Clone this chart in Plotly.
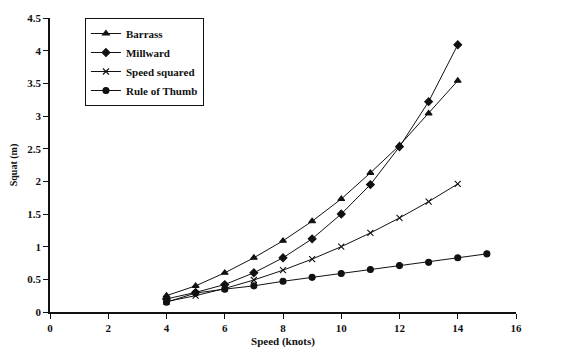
import plotly.graph_objects as go

# Ship speed (knots) and predicted squat (m) for each method
speed = [4, 5, 6, 7, 8, 9, 10, 11, 12, 13, 14]
speed_rot = [4, 5, 6, 7, 8, 9, 10, 11, 12, 13, 14, 15]

barrass = [0.25, 0.40, 0.60, 0.83, 1.09, 1.39, 1.73, 2.13, 2.55, 3.04, 3.54]
millward = [0.20, 0.30, 0.42, 0.60, 0.83, 1.12, 1.50, 1.95, 2.53, 3.22, 4.09]
speed_squared = [0.16, 0.25, 0.36, 0.49, 0.64, 0.81, 1.00, 1.21, 1.44, 1.69, 1.96]
rule_of_thumb = [0.15, 0.29, 0.35, 0.40, 0.47, 0.53, 0.59, 0.65, 0.71, 0.76, 0.83, 0.89]

x_ticks = [0, 2, 4, 6, 8, 10, 12, 14, 16]
y_ticks = [0, 0.5, 1, 1.5, 2, 2.5, 3, 3.5, 4, 4.5]
y_tick_text = ["0", "0.5", "1", "1.5", "2", "2.5", "3", "3.5", "4", "4.5"]

FONT = "Liberation Serif"
INK = "#111111"

series = [
    ("Barrass", speed, barrass, "triangle-up", 6),
    ("Millward", speed, millward, "diamond", 6),
    ("Speed squared", speed, speed_squared, "x-thin", 6),
    ("Rule of Thumb", speed_rot, rule_of_thumb, "circle", 6),
]

fig = go.Figure()
for name, xs, ys, sym, size in series:
    fig.add_trace(go.Scatter(
        x=xs, y=ys, name=name, mode="lines+markers",
        line=dict(color=INK, width=1),
        marker=dict(symbol=sym, size=size, color=INK,
                    line=dict(color=INK, width=1.1)),
    ))

fig.update_layout(
    width=586, height=358,
    margin=dict(l=50, r=70, t=16, b=44),
    paper_bgcolor="white", plot_bgcolor="white",
    font=dict(family=FONT, size=11, color=INK),
    showlegend=True,
    legend=dict(
        x=0.075, y=1.0, xanchor="left", yanchor="top",
        bordercolor=INK, borderwidth=1, bgcolor="white",
        font=dict(family=FONT, size=11, color=INK, weight="bold"),
        tracegroupgap=0, itemwidth=30,
    ),
    xaxis=dict(
        range=[0, 16], tickvals=x_ticks, ticktext=[str(v) for v in x_ticks],
        showgrid=False, zeroline=False, showline=True, linecolor=INK, linewidth=1.5,
        ticks="outside", ticklen=5, tickcolor=INK,
        tickfont=dict(family=FONT, size=11, weight="bold"),
        title=dict(text="<b>Speed (knots)</b>", font=dict(family=FONT, size=11), standoff=4),
    ),
    yaxis=dict(
        range=[0, 4.5], tickvals=y_ticks, ticktext=y_tick_text,
        showgrid=False, zeroline=False, showline=True, linecolor=INK, linewidth=1.5,
        ticks="outside", ticklen=5, tickcolor=INK,
        tickfont=dict(family=FONT, size=11, weight="bold"),
        title=dict(text="<b>Squat (m)</b>", font=dict(family=FONT, size=10), standoff=8),
    ),
)

fig.write_html("out.html")
